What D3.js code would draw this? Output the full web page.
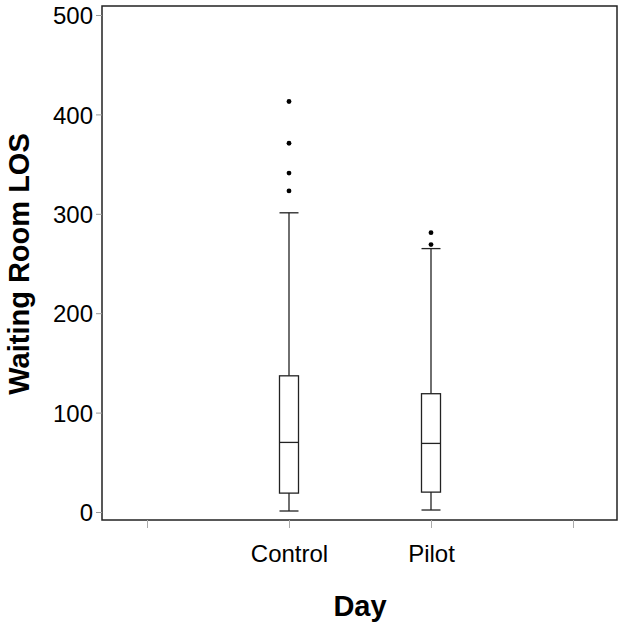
<!DOCTYPE html>
<html>
<head>
<meta charset="utf-8">
<script src="https://cdn.jsdelivr.net/npm/d3@7"></script>
<style>
    body { margin: 0; background: #fff; }
    text { font-family: 'Liberation Sans', Arial, Helvetica, sans-serif; fill: #000; }
</style>
</head>
<body>
<svg id="chart" width="624" height="627"></svg>
<script>
// categories on the x axis (first and last slots stay empty)
const slots = ['', 'Control', 'Pilot', ' ']
const groups = ['Control', 'Pilot']

// five-number summaries
const lowWhisker  = [1, 2]
const q1          = [19, 20]
const median      = [70, 69]
const q3          = [137, 119]
const highWhisker = [301, 265]

// points beyond the whiskers
const outliersControl = [413, 371, 341, 323]
const outliersPilot   = [281, 269]

const yTicks = [0, 100, 200, 300, 400, 500]

const svg = d3.select('#chart')
const frame = { left: 102, right: 617, top: 6, bottom: 520 }

const x = d3.scalePoint()
    .domain(slots)
    .range([147, 573])

const y = d3.scaleLinear()
    .domain([0, 500])
    .range([512, 15])

// frame
svg.append('rect')
    .attr('x', frame.left)
    .attr('y', frame.top)
    .attr('width', frame.right - frame.left)
    .attr('height', frame.bottom - frame.top)
    .attr('fill', 'none')
    .attr('stroke', '#222')
    .attr('stroke-width', 1.5)

// y axis
const yAxis = svg.append('g')
    .attr('transform', `translate(${frame.left},0)`)
    .call(d3.axisLeft(y).tickValues(yTicks).tickSize(6).tickPadding(3))
yAxis.select('.domain').remove()
yAxis.selectAll('line').attr('stroke', '#999')
yAxis.selectAll('text')
    .attr('font-size', 24)
    .attr('font-family', "'Liberation Sans', Arial, sans-serif")
    .attr('dy', '0.36em')

// x axis
const xAxis = svg.append('g')
    .attr('transform', `translate(0,${frame.bottom})`)
    .call(d3.axisBottom(x).tickSize(8).tickPadding(17))
xAxis.select('.domain').remove()
xAxis.selectAll('line').attr('stroke', '#aaa')
xAxis.selectAll('text')
    .attr('font-size', 24)
    .attr('font-family', "'Liberation Sans', Arial, sans-serif")

// boxes
const boxW = 19
const data = groups.map((g, i) => ({
    name: g,
    lo: lowWhisker[i], q1: q1[i], med: median[i], q3: q3[i], hi: highWhisker[i],
    out: i === 0 ? outliersControl : outliersPilot
}))

const box = svg.selectAll('.box')
    .data(data)
    .enter()
    .append('g')
    .attr('class', 'box')
    .attr('transform', (d) => `translate(${x(d.name)},0)`)
    .attr('stroke', '#222')
    .attr('stroke-width', 1.3)
    .attr('fill', 'none')

box.append('line')
    .attr('x1', 0).attr('x2', 0)
    .attr('y1', (d) => y(d.hi)).attr('y2', (d) => y(d.q3))
box.append('line')
    .attr('x1', 0).attr('x2', 0)
    .attr('y1', (d) => y(d.q1)).attr('y2', (d) => y(d.lo))
box.append('line')
    .attr('x1', -boxW / 2).attr('x2', boxW / 2)
    .attr('y1', (d) => y(d.hi)).attr('y2', (d) => y(d.hi))
box.append('line')
    .attr('x1', -boxW / 2).attr('x2', boxW / 2)
    .attr('y1', (d) => y(d.lo)).attr('y2', (d) => y(d.lo))
box.append('rect')
    .attr('x', -boxW / 2)
    .attr('width', boxW)
    .attr('y', (d) => y(d.q3))
    .attr('height', (d) => y(d.q1) - y(d.q3))
box.append('line')
    .attr('x1', -boxW / 2).attr('x2', boxW / 2)
    .attr('y1', (d) => y(d.med)).attr('y2', (d) => y(d.med))

box.selectAll('circle')
    .data((d) => d.out)
    .enter()
    .append('circle')
    .attr('cx', 0)
    .attr('cy', (v) => y(v))
    .attr('r', 2.4)
    .attr('fill', '#000')
    .attr('stroke', 'none')

// axis titles
svg.append('text')
    .attr('transform', 'translate(29,264) rotate(-90)')
    .attr('text-anchor', 'middle')
    .attr('font-size', 29)
    .attr('font-weight', 'bold')
    .text('Waiting Room LOS')

svg.append('text')
    .attr('x', 360)
    .attr('y', 616)
    .attr('text-anchor', 'middle')
    .attr('font-size', 29)
    .attr('font-weight', 'bold')
    .text('Day')
</script>
</body>
</html>
